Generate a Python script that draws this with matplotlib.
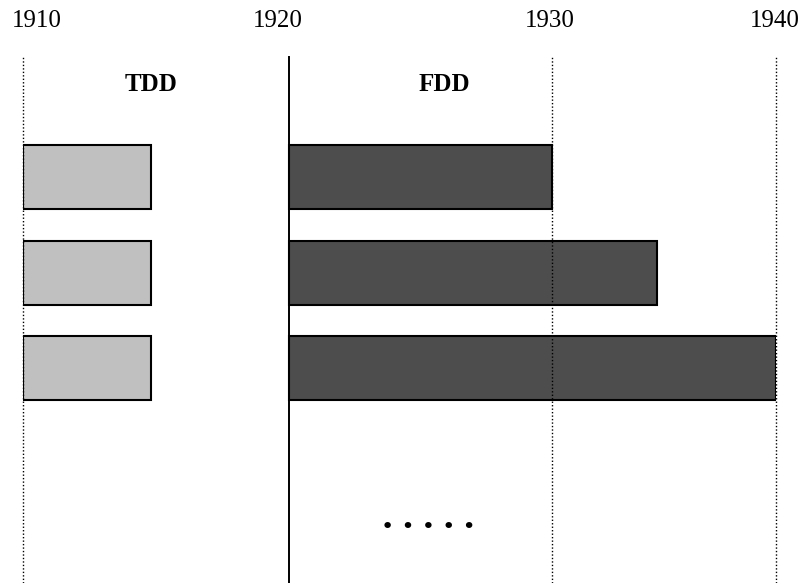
import numpy as np
import matplotlib.pyplot as plt
from matplotlib.transforms import ScaledTranslation

plt.rcParams['font.family'] = ['Liberation Serif', 'DejaVu Sans']

# data
years = [1910, 1920, 1930, 1940]
tick_labels = ['1910', '1920', '1930', '1940']
tdd_start = [1910, 1910, 1910]
tdd_end = [1914.8, 1914.8, 1914.8]
fdd_start = [1920, 1920, 1920]
fdd_end = [1930, 1934.7, 1940]
rows = [0, 1, 2]

# the drawing's year axis is not evenly spaced
knot_year = [1900, 1910, 1920, 1930, 1940, 1950]
knot_pos = [-266, 0, 266, 529, 753, 977]


def forward(x):
    return np.interp(x, knot_year, knot_pos)


def inverse(p):
    return np.interp(p, knot_pos, knot_year)


fig = plt.figure(figsize=(8.03, 5.83), dpi=100)
ax = fig.add_axes([23 / 803, 0, 753 / 803, 526 / 583])
ax.set_xscale('function', functions=(forward, inverse))
ax.set_xlim(1910, 1940)
ax.set_ylim(4.25, -1.257)

widths = [e - s for s, e in zip(tdd_start, tdd_end)]
ax.barh(rows, widths, left=tdd_start, height=0.67, color='#c0c0c0',
        edgecolor='black', linewidth=1.5, zorder=2)
widths = [e - s for s, e in zip(fdd_start, fdd_end)]
ax.barh(rows, widths, left=fdd_start, height=0.67, color='#4d4d4d',
        edgecolor='black', linewidth=1.5, zorder=2)

for y in years:
    if y == 1920:
        ax.axvline(y, color='black', linewidth=1.4, zorder=3, clip_on=False)
    else:
        ax.axvline(y, color='black', linewidth=1.0, linestyle=(0, (1, 1.5)),
                   zorder=3, clip_on=False)

ax.text(1914.8, -0.97, 'TDD', ha='center', va='center', fontsize=18,
        fontweight='bold')
ax.text(1925.9, -0.97, 'FDD', ha='center', va='center', fontsize=18,
        fontweight='bold')
ax.text(1925.3, 3.66, '\u2022 \u2022 \u2022 \u2022 \u2022', ha='center',
        va='center', fontsize=16, family='DejaVu Sans')

ax.xaxis.tick_top()
ax.set_xticks(years)
ax.set_xticklabels(tick_labels, fontsize=18)
ax.tick_params(axis='x', length=0, pad=18)
ax.set_yticks([])
for s in ax.spines.values():
    s.set_visible(False)

# nudge the first two year labels like in the drawing
shifts = [14, -11, -2, -1]
for lab, dx in zip(ax.get_xticklabels(), shifts):
    lab.set_transform(lab.get_transform() +
                      ScaledTranslation(dx / 100, 0, fig.dpi_scale_trans))

plt.savefig('out.png', dpi=100)
